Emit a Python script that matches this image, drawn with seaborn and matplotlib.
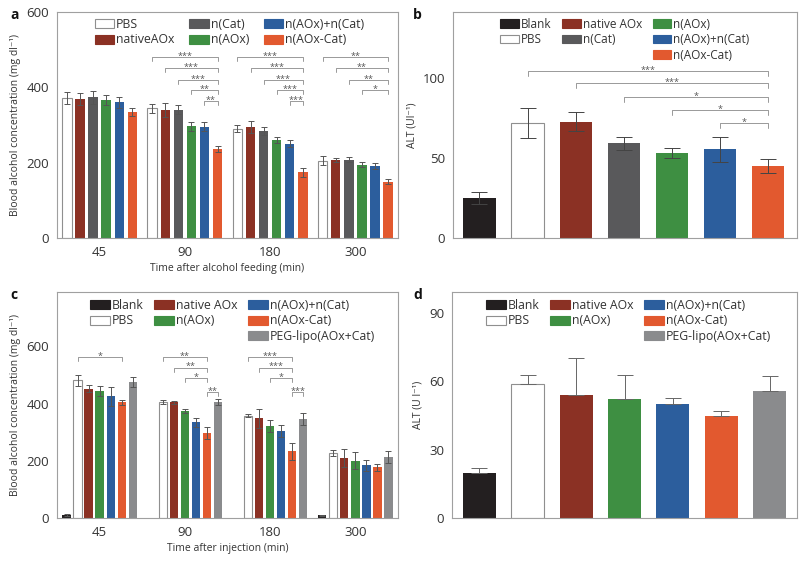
import numpy as np
import pandas as pd
import seaborn as sns
import matplotlib.pyplot as plt
from matplotlib.patches import Patch

sns.set_theme(style="white")
plt.rcParams['font.family'] = ['Open Sans', 'DejaVu Sans']

# ---- data, panel a (blood alcohol after feeding) ----
times = ['45', '90', '180', '300']
groups_a = ['PBS', 'nativeAOx', 'n(Cat)', 'n(AOx)', 'n(AOx)+n(Cat)', 'n(AOx-Cat)']
pbs_a = [372, 344, 290, 205]
native_a = [369, 339, 294, 207]
cat_a = [374, 341, 284, 208]
aox_a = [366, 297, 260, 195]
mix_a = [360, 296, 250, 191]
conj_a = [335, 235, 174, 150]
pbs_a_err = [15, 12, 9, 12]
native_a_err = [16, 19, 16, 6]
cat_a_err = [17, 13, 11, 7]
aox_a_err = [13, 12, 9, 6]
mix_a_err = [15, 11, 9, 7]
conj_a_err = [11, 8, 11, 6]
# (time, start group, end group, y, label)
sig_a = [('90', 'PBS', 'n(AOx-Cat)', 480, '***'), ('90', 'nativeAOx', 'n(AOx-Cat)', 450, '***'),
         ('90', 'n(Cat)', 'n(AOx-Cat)', 420, '***'), ('90', 'n(AOx)', 'n(AOx-Cat)', 392, '**'),
         ('90', 'n(AOx)+n(Cat)', 'n(AOx-Cat)', 364, '**'),
         ('180', 'PBS', 'n(AOx-Cat)', 480, '***'), ('180', 'nativeAOx', 'n(AOx-Cat)', 450, '***'),
         ('180', 'n(Cat)', 'n(AOx-Cat)', 420, '***'), ('180', 'n(AOx)', 'n(AOx-Cat)', 392, '***'),
         ('180', 'n(AOx)+n(Cat)', 'n(AOx-Cat)', 364, '***'),
         ('300', 'PBS', 'n(AOx-Cat)', 480, '**'), ('300', 'nativeAOx', 'n(AOx-Cat)', 450, '**'),
         ('300', 'n(Cat)', 'n(AOx-Cat)', 420, '**'), ('300', 'n(AOx)', 'n(AOx-Cat)', 392, '*')]

# ---- data, panel b (ALT after feeding) ----
groups_b = ['Blank', 'PBS', 'native AOx', 'n(Cat)', 'n(AOx)', 'n(AOx)+n(Cat)', 'n(AOx-Cat)']
alt_b = [25, 72, 72.5, 59, 53, 55.4, 45]
alt_b_err = [4, 9.4, 6, 4.3, 3.1, 7.9, 4.3]
sig_b = [('PBS', 104, '***'), ('native AOx', 96.5, '***'), ('n(Cat)', 88, '*'),
         ('n(AOx)', 80, '*'), ('n(AOx)+n(Cat)', 71.5, '*')]

# ---- data, panel c (blood alcohol after injection) ----
groups_c = ['Blank', 'PBS', 'native AOx', 'n(AOx)', 'n(AOx)+n(Cat)', 'n(AOx-Cat)', 'PEG-lipo(AOx+Cat)']
blank_c = [10, None, None, 9]
pbs_c = [481, 407, 358, 226]
native_c = [452, 404, 348, 209]
aox_c = [445, 374, 322, 200]
mix_c = [426, 334, 304, 184]
conj_c = [405, 298, 233, 178]
peg_c = [475, 405, 347, 213]
blank_c_err = [3, None, None, 2]
pbs_c_err = [18, 7, 6, 11]
native_c_err = [12, 5, 34, 32]
aox_c_err = [17, 8, 20, 29]
mix_c_err = [33, 17, 21, 19]
conj_c_err = [9, 21, 29, 12]
peg_c_err = [17, 11, 21, 22]
sig_c = [('45', 'PBS', 'n(AOx-Cat)', 562, '*'),
         ('90', 'PBS', 'n(AOx-Cat)', 562, '**'), ('90', 'native AOx', 'n(AOx-Cat)', 526, '**'),
         ('90', 'n(AOx)', 'n(AOx-Cat)', 488, '*'), ('90', 'n(AOx-Cat)', 'PEG-lipo(AOx+Cat)', 439, '**'),
         ('180', 'PBS', 'n(AOx-Cat)', 562, '***'), ('180', 'native AOx', 'n(AOx-Cat)', 526, '***'),
         ('180', 'n(AOx)', 'n(AOx-Cat)', 488, '*'), ('180', 'n(AOx-Cat)', 'PEG-lipo(AOx+Cat)', 439, '***')]

# ---- data, panel d (ALT after injection) ----
groups_d = groups_c
alt_d = [19.8, 58.7, 54, 52.3, 50.1, 44.7, 55.7]
alt_d_err = [2, 3.8, 16, 10.3, 2.5, 2.2, 6.4]

colors = {'Blank': '#231f20', 'PBS': '#ffffff', 'nativeAOx': '#8b3124', 'native AOx': '#8b3124',
          'n(Cat)': '#59595b', 'n(AOx)': '#3e8f42', 'n(AOx)+n(Cat)': '#2c5e9d',
          'n(AOx-Cat)': '#e2592f', 'PEG-lipo(AOx+Cat)': '#8a8b8d'}
EDGE = '#8f8f8f'
TXT = '#333333'


def long_df(cats, hues, table):
    rows = []
    for h, vals in zip(hues, table):
        for c, v in zip(cats, vals):
            if v is not None:
                rows.append({'time': c, 'group': h, 'value': v})
    return pd.DataFrame(rows)


def style_axes(ax):
    for s in ax.spines.values():
        s.set_color('#a0a0a0')
        s.set_linewidth(0.8)
    ax.tick_params(axis='both', which='both', direction='out', length=3.5, width=0.8,
                   color='#a0a0a0', labelsize=9.5, labelcolor=TXT, pad=2)


def grouped(ax, cats, hues, table, errs, width, gap, cap):
    df = long_df(cats, hues, table)
    sns.barplot(data=df, x='time', y='value', hue='group', order=cats, hue_order=hues,
                palette=[colors[h] for h in hues], width=width, gap=gap, errorbar=None,
                saturation=1, linewidth=0, legend=False, ax=ax)
    pos = {}
    for h, cont, vals, ev in zip(hues, ax.containers, table, errs):
        present = [(c, v, e) for c, v, e in zip(cats, vals, ev) if v is not None]
        for (c, v, e), bar in zip(present, cont):
            xc = bar.get_x() + bar.get_width() / 2
            pos[(c, h)] = xc
            if h == 'PBS':
                bar.set_edgecolor(EDGE)
                bar.set_linewidth(0.8)
            ax.errorbar(xc, v, yerr=e, fmt='none', ecolor='#555555', elinewidth=0.7,
                        capsize=cap, capthick=0.7, zorder=3)
    return pos


def bracket(ax, x1, x2, y, tick, text):
    ax.plot([x1, x1, x2, x2], [y - tick, y, y, y - tick], color='#999999', lw=0.7, zorder=4)
    ax.annotate(text, xy=((x1 + x2) / 2, y), xytext=(0, -1.2), textcoords='offset points',
                ha='center', va='baseline', fontsize=6.5, color='#555555')


def legend(ax, cols, anchor, fs=8.8, colsp=1.0):
    handles, labs = [], []
    for col in cols:
        for lab in col:
            if lab is None:
                handles.append(Patch(facecolor='none', edgecolor='none'))
                labs.append('')
            else:
                ec = EDGE if lab == 'PBS' else colors[lab]
                handles.append(Patch(facecolor=colors[lab], edgecolor=ec, linewidth=0.8))
                labs.append(lab)
    ax.legend(handles, labs, ncol=len(cols), loc='upper left', bbox_to_anchor=anchor,
              frameon=False, fontsize=fs, handlelength=1.6, handleheight=0.75,
              handletextpad=0.15, columnspacing=colsp, labelspacing=0.22, borderpad=0,
              borderaxespad=0, labelcolor=TXT)


fig = plt.figure(figsize=(8, 5.64), dpi=100)
ax_a = fig.add_axes([57 / 800, 1 - 238 / 564, 341 / 800, 226 / 564])
ax_b = fig.add_axes([453 / 800, 1 - 238 / 564, 344 / 800, 226 / 564])
ax_c = fig.add_axes([57 / 800, 1 - 518 / 564, 341 / 800, 226 / 564])
ax_d = fig.add_axes([452 / 800, 1 - 518 / 564, 345 / 800, 226 / 564])

# panel a
table_a = [pbs_a, native_a, cat_a, aox_a, mix_a, conj_a]
errs_a = [pbs_a_err, native_a_err, cat_a_err, aox_a_err, mix_a_err, conj_a_err]
pos_a = grouped(ax_a, times, groups_a, table_a, errs_a, 0.92, 0.28, 2.5)
for t, g1, g2, y, s in sig_a:
    bracket(ax_a, pos_a[(t, g1)], pos_a[(t, g2)], y, 10, s)
ax_a.set_ylim(0, 600)
ax_a.set_yticks([0, 200, 400, 600])
ax_a.set_xlim(-0.5, 3.5)
ax_a.set_xlabel('Time after alcohol feeding (min)', fontsize=7.5, color=TXT, labelpad=3)
ax_a.set_ylabel('Blood alcohol concentration (mg dl\u207b\u00b9)', fontsize=7.5, color=TXT, labelpad=4)
style_axes(ax_a)
legend(ax_a, [['PBS', 'nativeAOx'], ['n(Cat)', 'n(AOx)'], ['n(AOx)+n(Cat)', 'n(AOx-Cat)']],
       (0.111, 0.975), colsp=1.2)

# panel b
df_b = pd.DataFrame({'group': groups_b, 'value': alt_b})
sns.barplot(data=df_b, x='group', y='value', hue='group', order=groups_b, hue_order=groups_b,
            palette=[colors[g] for g in groups_b], width=0.67, saturation=1, linewidth=0,
            errorbar=None, legend=False, ax=ax_b)
pos_b = {}
for g, cont, v, e in zip(groups_b, ax_b.containers, alt_b, alt_b_err):
    bar = cont[0]
    xc = bar.get_x() + bar.get_width() / 2
    pos_b[g] = xc
    if g == 'PBS':
        bar.set_edgecolor(EDGE)
        bar.set_linewidth(0.8)
    ax_b.errorbar(xc, v, yerr=e, fmt='none', ecolor='#444444', elinewidth=0.7,
                  capsize=5.5, capthick=0.7, zorder=3)
for g1, y, s in sig_b:
    bracket(ax_b, pos_b[g1], pos_b['n(AOx-Cat)'], y, 3, s)
ax_b.set_ylim(0, 141)
ax_b.set_yticks([0, 50, 100])
ax_b.set_xlim(-0.55, 6.6)
ax_b.set_xticks([])
ax_b.set_xlabel('')
ax_b.set_ylabel('ALT (Ul\u207b\u00b9)', fontsize=7.5, color=TXT, labelpad=4)
style_axes(ax_b)
legend(ax_b, [['Blank', 'PBS', None], ['native AOx', 'n(Cat)', None],
              ['n(AOx)', 'n(AOx)+n(Cat)', 'n(AOx-Cat)']], (0.137, 0.975), fs=8.5, colsp=0.9)

# panel c
table_c = [blank_c, pbs_c, native_c, aox_c, mix_c, conj_c, peg_c]
errs_c = [blank_c_err, pbs_c_err, native_c_err, aox_c_err, mix_c_err, conj_c_err, peg_c_err]
pos_c = grouped(ax_c, times, groups_c, table_c, errs_c, 0.906, 0.25, 2)
for t, g1, g2, y, s in sig_c:
    bracket(ax_c, pos_c[(t, g1)], pos_c[(t, g2)], y, 14, s)
ax_c.set_ylim(0, 790)
ax_c.set_yticks([0, 200, 400, 600])
ax_c.set_xlim(-0.5, 3.5)
ax_c.set_xlabel('Time after injection (min)', fontsize=7.5, color=TXT, labelpad=3)
ax_c.set_ylabel('Blood alcohol concentration (mg dl\u207b\u00b9)', fontsize=7.5, color=TXT, labelpad=4)
style_axes(ax_c)
legend(ax_c, [['Blank', 'PBS', None], ['native AOx', 'n(AOx)', None],
              ['n(AOx)+n(Cat)', 'n(AOx-Cat)', 'PEG-lipo(AOx+Cat)']], (0.097, 0.97), colsp=0.9)

# panel d
df_d = pd.DataFrame({'group': groups_d, 'value': alt_d})
sns.barplot(data=df_d, x='group', y='value', hue='group', order=groups_d, hue_order=groups_d,
            palette=[colors[g] for g in groups_d], width=0.68, saturation=1, linewidth=0,
            errorbar=None, legend=False, ax=ax_d)
for g, cont, v, e in zip(groups_d, ax_d.containers, alt_d, alt_d_err):
    bar = cont[0]
    xc = bar.get_x() + bar.get_width() / 2
    if g == 'PBS':
        bar.set_edgecolor(EDGE)
        bar.set_linewidth(0.8)
    ax_d.errorbar(xc, v, yerr=[[0], [e]], fmt='none', ecolor='#666666', elinewidth=0.7,
                  capsize=5.5, capthick=0.7, zorder=1)
ax_d.set_ylim(0, 99)
ax_d.set_yticks([0, 30, 60, 90])
ax_d.set_xlim(-0.56, 6.56)
ax_d.set_xticks([])
ax_d.set_xlabel('')
ax_d.set_ylabel('ALT (U l\u207b\u00b9)', fontsize=7.5, color=TXT, labelpad=4)
style_axes(ax_d)
legend(ax_d, [['Blank', 'PBS', None], ['native AOx', 'n(AOx)', None],
              ['n(AOx)+n(Cat)', 'n(AOx-Cat)', 'PEG-lipo(AOx+Cat)']], (0.099, 0.97), colsp=0.9)

# panel letters
for lab, x, y in [('a', 10, 8), ('b', 413, 8), ('c', 10, 288), ('d', 413, 288)]:
    fig.text(x / 800, 1 - y / 564, lab, fontsize=10, fontweight='bold', va='top', ha='left',
             color='#111111')

fig.savefig('out.png', dpi=100)
